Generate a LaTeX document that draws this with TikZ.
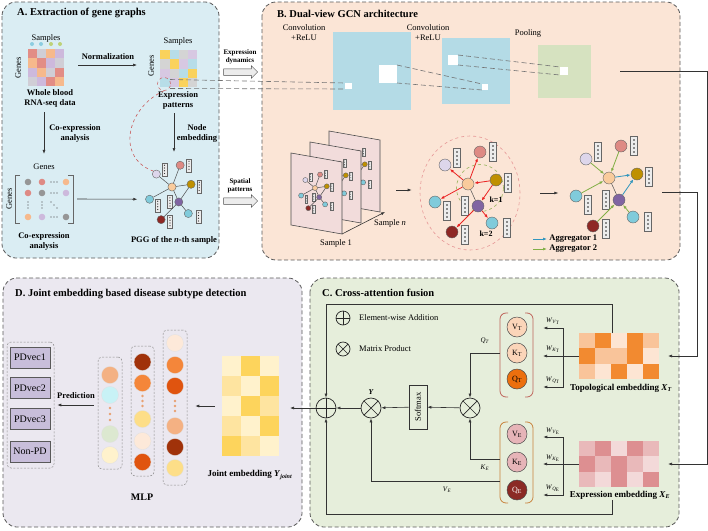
\documentclass[tikz,border=0pt]{standalone}
\usepackage{fontspec}
\setmainfont{Liberation Serif}
\usetikzlibrary{arrows.meta,shapes.arrows,shapes.geometric,positioning}

\definecolor{panelA}{RGB}{218,237,243}
\definecolor{panelB}{RGB}{251,229,214}
\definecolor{panelC}{RGB}{230,238,219}
\definecolor{panelD}{RGB}{235,232,240}
\definecolor{convblue}{RGB}{180,219,230}
\definecolor{poolgreen}{RGB}{214,226,192}
\definecolor{planefill}{RGB}{242,220,219}
\definecolor{nPeach}{RGB}{249,203,156}
\definecolor{nLav}{RGB}{221,214,235}
\definecolor{nRed}{RGB}{222,138,132}
\definecolor{nGold}{RGB}{191,144,0}
\definecolor{nBlue}{RGB}{128,203,219}
\definecolor{nPurple}{RGB}{128,100,162}
\definecolor{nDark}{RGB}{142,40,36}
\definecolor{hRed}{RGB}{226,141,134}
\definecolor{hGrey}{RGB}{208,206,214}
\definecolor{hPeach}{RGB}{246,185,140}
\definecolor{hLav}{RGB}{205,185,220}
\definecolor{yY}{RGB}{250,210,92}
\definecolor{yB}{RGB}{183,221,232}
\definecolor{yG}{RGB}{212,212,212}
\definecolor{yL}{RGB}{215,200,226}
\definecolor{sBlue}{RGB}{140,205,225}
\definecolor{sGreen}{RGB}{190,210,120}
\definecolor{dGrey}{RGB}{150,150,150}
\definecolor{mPeach}{RGB}{244,177,131}
\definecolor{mCyan}{RGB}{200,242,246}
\definecolor{mGreen}{RGB}{220,232,208}
\definecolor{mCream}{RGB}{255,242,204}
\definecolor{mBrown}{RGB}{160,50,10}
\definecolor{mOrange}{RGB}{244,134,58}
\definecolor{mRedOr}{RGB}{224,84,15}
\definecolor{mYellow}{RGB}{253,222,136}
\definecolor{mLight}{RGB}{253,233,217}
\definecolor{mDot}{RGB}{232,160,112}
\definecolor{jC}{RGB}{255,242,204}
\definecolor{jL}{RGB}{254,228,160}
\definecolor{jY}{RGB}{253,212,92}
\definecolor{tL}{RGB}{249,196,154}
\definecolor{tO}{RGB}{242,138,48}
\definecolor{tC}{RGB}{253,229,211}
\definecolor{eL}{RGB}{233,185,186}
\definecolor{eD}{RGB}{221,143,145}
\definecolor{eC}{RGB}{243,217,217}
\definecolor{qkvTl}{RGB}{251,213,185}
\definecolor{qkvTd}{RGB}{236,111,14}
\definecolor{qkvEl}{RGB}{230,180,184}
\definecolor{qkvEd}{RGB}{139,42,37}
\definecolor{brT}{RGB}{190,100,90}
\definecolor{brE}{RGB}{200,130,60}
\definecolor{pdfill}{RGB}{200,190,218}
\definecolor{selred}{RGB}{200,90,90}
\definecolor{hopPink}{RGB}{230,150,150}
\definecolor{hopGreen}{RGB}{150,180,90}
\definecolor{kRed}{RGB}{235,35,35}
\definecolor{agBlue}{RGB}{50,150,190}
\definecolor{agGreen}{RGB}{130,175,70}

\newcommand{\isub}[2]{\textit{#1}\textsubscript{\textit{#2}}}

% one gene graph: name prefix, centre, scale
\newcommand{\genegraph}[3]{%
  \begin{scope}[shift={#2}, scale=#3, every node/.append style={transform shape}]
    \node[gnode, fill=nPeach]  (#1c)    at (0,0)     {};
    \node[gnode, fill=nLav]    (#1lav)  at (-23,-19) {};
    \node[gnode, fill=nRed]    (#1red)  at (12,-32)  {};
    \node[gnode, fill=nGold]   (#1gold) at (28,-4)   {};
    \node[gnode, fill=nBlue]   (#1bl)   at (-33,18)  {};
    \node[gnode, fill=nPurple] (#1pur)  at (10,22)   {};
    \node[gnode, fill=nBlue]   (#1br)   at (24,39)   {};
    \node[gnode, fill=nDark]   (#1dr)   at (-16,48)  {};
    \node[vecbox] (#1vlav)  at (-11,-26) {};
    \node[vecbox] (#1vred)  at (25,-32)  {};
    \node[vecbox] (#1vgold) at (40,-1)   {};
    \node[vecbox] (#1vbl)   at (-21,27)  {};
    \node[vecbox] (#1vc)    at (-3,22)   {};
    \node[vecbox] (#1vbr)   at (39,44)   {};
    \node[vecbox] (#1vdr)   at (-3,51)   {};
  \end{scope}}

\newcommand{\plainedges}[1]{%
  \draw[gedge] (#1c) -- (#1lav) (#1c) -- (#1red) (#1c) -- (#1gold)
    (#1c) -- (#1bl) (#1c) -- (#1pur) (#1pur) -- (#1gold)
    (#1pur) -- (#1br) (#1pur) -- (#1dr);}

\tikzset{
  panel/.style={draw=black!65, dash pattern=on 4pt off 2.5pt, line width=0.8pt, rounded corners=14pt},
  arr/.style={-{Latex[length=4pt,width=3pt]}, line width=0.6pt, draw=black!80},
  gedge/.style={draw=black!70, line width=0.5pt},
  gnode/.style={circle, draw=black!60, line width=0.4pt, minimum size=12pt, inner sep=0pt},
  vecbox/.style={draw=black!60, fill=gray!15, line width=0.4pt, minimum width=7pt,
    minimum height=19pt, inner sep=0pt,
    path picture={\foreach \d in {-6,-2,2,6}
      \fill[black!85] ([yshift=\d pt]path picture bounding box.center) circle (0.9pt);}},
  hmbox/.style={inner sep=0pt, outer sep=0pt},
  guide/.style={draw=black!55, dash pattern=on 5pt off 3pt, line width=0.6pt},
  sq/.style={inner sep=0pt, outer sep=0pt},
  ttl/.style={font=\fontsize{10.5}{12}\selectfont\bfseries, anchor=west, inner sep=0pt},
  blbl/.style={font=\fontsize{8.5}{10}\selectfont\bfseries, align=center, inner sep=1pt},
  nlbl/.style={font=\fontsize{8.5}{10}\selectfont, align=center, inner sep=1pt},
  slbl/.style={font=\fontsize{7}{8.5}\selectfont\bfseries, align=center, inner sep=1pt},
  hollow/.style={single arrow, draw=black!70, fill=gray!15, line width=0.5pt,
    single arrow head extend=3pt, inner sep=3pt, minimum height=34pt},
  plane/.style={draw=black!70, fill=planefill, line width=0.6pt},
  redarr/.style={-{Latex[length=4pt,width=3pt]}, draw=kRed, line width=0.8pt},
  agA/.style={-{Latex[length=4pt,width=3pt]}, draw=agBlue, line width=0.8pt},
  agB/.style={-{Latex[length=4pt,width=3pt]}, draw=agGreen, line width=0.8pt},
  opnode/.style={circle, draw=black!85, line width=0.7pt, minimum size=20pt, inner sep=0pt},
  oplus/.style={opnode, path picture={\draw[line width=0.7pt]
    (path picture bounding box.north) -- (path picture bounding box.south)
    (path picture bounding box.west) -- (path picture bounding box.east);}},
  otimes/.style={opnode, path picture={\draw[line width=0.7pt]
    (path picture bounding box.north west) -- (path picture bounding box.south east)
    (path picture bounding box.north east) -- (path picture bounding box.south west);}},
  qkv/.style={circle, draw=black!70, line width=0.5pt, minimum size=20pt, inner sep=0pt,
    font=\fontsize{8}{9}\selectfont},
  mlpc/.style={circle, draw=black!12, line width=0.3pt, minimum size=17pt, inner sep=0pt},
  grp/.style={draw=black!45, dash pattern=on 2pt off 1.5pt, rounded corners=4pt, line width=0.5pt},
  pdbox/.style={draw=black!65, fill=pdfill, line width=0.8pt, minimum width=40pt,
    minimum height=21pt, inner sep=0pt, font=\fontsize{10}{12}\selectfont},
  wlbl/.style={font=\fontsize{7}{8}\selectfont, inner sep=0pt}
}

\begin{document}
\begin{tikzpicture}[x=1pt, y=-1pt]
\useasboundingbox (0,0) rectangle (708,530);

% panels
\filldraw[panel, fill=panelA] (2,2) rectangle (219,258);
\filldraw[panel, fill=panelB] (262,2) rectangle (680,260);
\filldraw[panel, fill=panelD] (3,278) rectangle (302,527);
\filldraw[panel, fill=panelC] (310,278) rectangle (679,527);

% ---------------- A. extraction of gene graphs
\node[ttl] (ttlA) at (17,13) {A. Extraction of gene graphs};

\node[nlbl] (smpRaw) at (46,38) {Samples};
\foreach \x/\c in {32/sBlue,41/sBlue,51/sGreen,60/sGreen}
  \fill[\c] (\x,44) circle (2pt);
\foreach \row [count=\r] in {{hRed,hGrey,hPeach,hLav},{hPeach,hRed,hLav,hGrey},
    {hLav,hPeach,hGrey,hRed},{hGrey,hLav,hRed,hPeach}}
  \foreach \c [count=\k] in \row
    \fill[\c] ({19+9*\k},{39.75+9.25*\r}) rectangle ++(9,9.25);
\node[hmbox, minimum width=36pt, minimum height=37pt] (hmRaw) at (46,67.5) {};
\node[nlbl, rotate=90] (gRaw) at (18,68) {Genes};
\node[blbl] (rawtxt) at (50,98) {Whole blood\\RNA-seq data};

\node[nlbl] (smpNorm) at (178,41) {Samples};
\foreach \row [count=\r] in {{yY,yB,yG,yL},{yG,yY,yL,yB},{yL,yG,yB,yY},{yB,yL,yY,yG}}
  \foreach \c [count=\k] in \row
    \fill[\c] ({151+9.25*\k},{40.75+9.25*\r}) rectangle ++(9.25,9.25);
\node[hmbox, minimum width=37pt, minimum height=37pt] (hmNorm) at (178.5,68.5) {};
\node[nlbl, rotate=90] (gNorm) at (151,66) {Genes};
\node[blbl] (pattxt) at (178,100) {Expression\\patterns};
\node[circle, draw=selred, dashed, line width=0.5pt, minimum size=13pt, inner sep=0pt] (selcirc) at (164,84) {};

\draw[arr, shorten <=14pt, shorten >=23pt] ([yshift=2.5pt]hmRaw.east) -- ([yshift=3.5pt]hmNorm.west);
\node[blbl] (normtxt) at (108,57) {Normalization};

% co-expression matrix
\node[nlbl] (cxgenes) at (44,167) {Genes};
\node[nlbl, rotate=90] (gCx) at (9,199) {Genes};
\node[hmbox, minimum width=58pt, minimum height=48pt] (cxmat) at (44,199) {};
\draw[black!60, line width=0.6pt] ([xshift=5pt]cxmat.north west) -- (cxmat.north west) -- (cxmat.south west) -- ([xshift=5pt]cxmat.south west);
\draw[black!60, line width=0.6pt] ([xshift=-5pt]cxmat.north east) -- (cxmat.north east) -- (cxmat.south east) -- ([xshift=-5pt]cxmat.south east);
\foreach \x/\y/\c in {28/182/dGrey,42/182/nRed,66/182/hPeach,28/193/nRed,42/193/dGrey,66/193/hLav,
    28/217/hPeach,42/217/hLav,66/217/dGrey}
  \fill[\c] (\x,\y) circle (3.3pt);
% dots of the matrix
\foreach \x/\y in {51/182,54/182,57/182, 51/193,54/193,57/193, 51/217,54/217,57/217,
    28/202,28/205,28/208, 42/202,42/205,42/208, 51/202,54/205,57/208}
  \fill[black!75] (\x,\y) circle (0.7pt);
\node[blbl] (cxtxt) at (44,241) {Co-expression\\analysis};

\draw[arr, shorten <=4pt, shorten >=9pt] (rawtxt.south -| cxgenes.north) -- (cxgenes.north);
\node[blbl] (cxlbl) at (75,133) {Co-expression\\analysis};

% PGG
\genegraph{pgg}{(172,187)}{0.68}
\plainedges{pgg}
\node[blbl] (pggtxt) at (174,240) {PGG of the \textit{n}-th sample};
\coordinate (embEnd) at (174,152);
\draw[arr, shorten <=3pt] (pattxt.south -| embEnd) -- (embEnd);
\node[blbl] (emblbl) at (197,133) {Node\\embedding};
\draw[arr, shorten <=4pt, shorten >=8pt] (cxmat.east) -- (pggbl.west);
\draw[selred, dashed, line width=0.6pt] (selcirc.south) .. controls (126,108) and (116,158) .. (pgglav.north west);

% between A and B
\node[slbl] (dyntxt) at (240,57) {Expression\\dynamics};
\node[hollow] (dynArr) at (239,72) {};
\node[slbl] (spatxt) at (240,186) {Spatial\\patterns};
\node[hollow] (spaArr) at (239,201) {};

% ---------------- B. dual-view GCN
\node[ttl] (ttlB) at (277,14) {B. Dual-view GCN architecture};
\node[nlbl] (conv1txt) at (304,33) {Convolution\\+ReLU};
\node[nlbl] (conv2txt) at (428,33) {Convolution\\+ReLU};
\node[nlbl] (pooltxt) at (528,33) {Pooling};

\node[sq, fill=convblue, minimum width=78pt, minimum height=78pt] (conv1) at (372,71) {};
\node[sq, fill=white, minimum width=7pt, minimum height=6pt] (cw1) at (348.5,86) {};
\node[sq, fill=white, minimum width=18pt, minimum height=18pt] (cw1b) at (388,74) {};
\node[sq, fill=convblue, minimum width=68pt, minimum height=66pt] (conv2) at (476,71) {};
\node[sq, fill=white, minimum width=10pt, minimum height=10pt] (cw2) at (453,60) {};
\node[sq, fill=white, minimum width=6pt, minimum height=6pt] (cw2b) at (485,87) {};
\node[sq, fill=poolgreen, minimum width=53pt, minimum height=53pt] (pool) at (564.5,71.5) {};
\node[sq, fill=white, minimum width=8pt, minimum height=8pt] (pw) at (564,71) {};

\coordinate (patTop) at (170,79.5);
\coordinate (patBot) at (170,88.5);
\draw[guide] (patTop) -- (cw1.north west);
\draw[guide] (patBot) -- (cw1.south west);
\draw[guide] (cw1b.north east) -- (cw2b.north west);
\draw[guide] (cw1b.south east) -- (cw2b.south west);
\draw[guide] (cw2.north east) -- (pw.north west);
\draw[guide] (cw2.south east) -- (pw.south west);

% stacked samples
\foreach \p/\dx/\dy in {3/38/-22, 2/19/-11, 1/0/0} {
  \filldraw[plane] ({291+\dx},{153+\dy}) -- ++(51,9) -- ++(0,72) -- ++(-51,-9) -- cycle;
  \genegraph{p\p}{({315+\dx},{188+\dy})}{0.42}
  \plainedges{p\p}
}
\coordinate (s1) at (342,234);
\coordinate (sn) at (385,212);
\draw[arr] (s1) -- (sn);
\node[nlbl] (smp1) at (336,243) {Sample 1};
\node[nlbl] (smpn) at (390,223) {Sample \textit{n}};
\coordinate (stkOut) at (396,190);

% k-hop view
\node[ellipse, draw=hopPink, dashed, line width=0.6pt, minimum width=100pt, minimum height=114pt] (khop) at (470,193) {};
\node[circle, draw=hopGreen, dashed, line width=0.6pt, minimum size=47pt] (k1hop) at (480,188) {};
\draw[arr, shorten >=8pt] (stkOut) -- (stkOut -| khop.west);
\genegraph{k}{(468,184)}{1}
\draw[gedge] (kc) -- (kpur);
\draw[redarr] (kc) -- (klav);
\draw[redarr] (kc) -- (kred);
\draw[redarr] (kgold) -- (kc);
\draw[redarr] (kc) -- (kbl);
\draw[redarr] (kgold) -- (kpur);
\draw[redarr] (kpur) -- (kbr);
\draw[redarr] (kpur) -- (kdr);
\node[blbl, font=\fontsize{8}{9}\selectfont\bfseries] (k1txt) at (496,200) {k=1};
\node[blbl, font=\fontsize{8}{9}\selectfont\bfseries] (k2txt) at (486,234) {k=2};

\draw[arr] ([xshift=20pt]khop.east) -- ++(18,0);

% aggregated view
\genegraph{r}{(609,178)}{1}
\draw[gedge] (rc) -- (rpur);
\draw[agB] (rlav) -- (rc);
\draw[agB] (rred) -- (rc);
\draw[agB] (rbl) -- (rc);
\draw[agB] (rdr) -- (rpur);
\draw[agB] (rbr) -- (rpur);
\draw[agA] (rc) -- (rgold);
\draw[agA] (rpur) -- (rgold);

\coordinate (legA) at (533,239);
\coordinate (legB) at (533,249);
\draw[agA] (legA) -- ++(14,0) node[blbl, anchor=west, xshift=1pt] (agtxt1) {Aggregator 1};
\draw[agB] (legB) -- ++(14,0) node[blbl, anchor=west, xshift=1pt] (agtxt2) {Aggregator 2};

% ---------------- C. cross-attention fusion
\node[ttl] (ttlC) at (322,293) {C. Cross-attention fusion};
\node[oplus, minimum size=14pt] (legAdd) at (343,318) {};
\node[nlbl, anchor=west] (legAddT) at (358,318) {Element-wise Addition};
\node[otimes, minimum size=14pt] (legMul) at (343,349) {};
\node[nlbl, anchor=west] (legMulT) at (358,349) {Matrix Product};

\node[oplus] (opl) at (326,408) {};
\node[otimes] (otY) at (371,408) {};
\node[blbl, font=\fontsize{7.5}{9}\selectfont\bfseries\itshape] (lblY) at (371,392) {Y};
\node[draw=black!80, line width=0.6pt, rotate=90, minimum width=44pt, minimum height=18pt,
  inner sep=0pt, font=\fontsize{8.5}{10}\selectfont] (soft) at (418,407) {Softmax};
\node[otimes] (otB) at (470,408) {};

% Q K V of the two views
\node[hmbox, minimum width=33pt, minimum height=84pt] (qkvT) at (516.5,355) {};
\node[hmbox, minimum width=33pt, minimum height=81pt] (qkvE) at (516.5,462.5) {};
\foreach \b/\c in {qkvT/brT, qkvE/brE} {
  \draw[\c, line width=0.8pt, rounded corners=6pt] ([xshift=8pt]\b.north west) -- (\b.north west) -- (\b.south west) -- ([xshift=8pt]\b.south west);
  \draw[\c, line width=0.8pt, rounded corners=6pt] ([xshift=-8pt]\b.north east) -- (\b.north east) -- (\b.south east) -- ([xshift=-8pt]\b.south east);
}
\node[qkv, fill=qkvTl] (vT) at (517,327) {V\textsubscript{T}};
\node[qkv, fill=qkvTl] (kT) at (517,353) {K\textsubscript{T}};
\node[qkv, fill=qkvTd] (qT) at (517,379) {Q\textsubscript{T}};
\node[qkv, fill=qkvEl] (vE) at (517,434) {V\textsubscript{E}};
\node[qkv, fill=qkvEl] (kE) at (517,462) {K\textsubscript{E}};
\node[qkv, fill=qkvEd, text=white] (qE) at (517,490) {Q\textsubscript{E}};

% embeddings
\foreach \row [count=\r] in {{tL,tO,tC,tO,tL},{tO,tL,tL,tO,tC},{tL,tC,tO,tC,tO}}
  \foreach \c [count=\k] in \row
    \fill[\c] ({563+16*\k},{317.67+15.33*\r}) rectangle ++(16,15.33);
\node[hmbox, minimum width=80pt, minimum height=46pt] (hmT) at (619,356) {};
\node[blbl, font=\fontsize{9}{10}\selectfont\bfseries] (lblT) at (621,388) {Topological embedding \isub{X}{T}};
\foreach \row [count=\r] in {{eL,eD,eC,eD,eL},{eD,eL,eD,eL,eC},{eL,eC,eD,eC,eD}}
  \foreach \c [count=\k] in \row
    \fill[\c] ({563+16*\k},{425.67+15.33*\r}) rectangle ++(16,15.33);
\node[hmbox, minimum width=80pt, minimum height=46pt] (hmE) at (619,464) {};
\node[blbl, font=\fontsize{9}{10}\selectfont\bfseries] (lblE) at (620,495) {Expression embedding \isub{X}{E}};

% projections
\draw[arr, shorten >=10pt] (hmT.west) -- (hmT.west -| qkvT.east);
\draw[arr] ([xshift=-16pt]hmT.west) |- ([xshift=16pt,yshift=-1pt]vT.east);
\draw[arr] ([xshift=-16pt]hmT.west) |- ([xshift=16pt,yshift=-8pt]qT.east);
\draw[arr, shorten >=10pt] (hmE.west) -- (hmE.west -| qkvE.east);
\draw[arr] ([xshift=-16pt]hmE.west) |- ([xshift=16pt,yshift=-3pt]vE.east);
\draw[arr] ([xshift=-16pt]hmE.west) |- ([xshift=16pt,yshift=-5pt]qE.east);
\node[wlbl] (wvt) at (553,321) {\textit{W}\textsubscript{\textit{V}\textsubscript{T}}};
\node[wlbl] (wkt) at (553,349) {\textit{W}\textsubscript{\textit{K}\textsubscript{T}}};
\node[wlbl] (wqt) at (553,380) {\textit{W}\textsubscript{\textit{Q}\textsubscript{T}}};
\node[wlbl] (wve) at (553,431) {\textit{W}\textsubscript{\textit{V}\textsubscript{E}}};
\node[wlbl] (wke) at (553,458) {\textit{W}\textsubscript{\textit{K}\textsubscript{E}}};
\node[wlbl] (wqe) at (553,488) {\textit{W}\textsubscript{\textit{Q}\textsubscript{E}}};

% attention
\draw[arr] ([yshift=2pt]qkvT.west) -| (otB.north);
\draw[arr] ([yshift=3pt]qkvE.west) -| (otB.south);
\draw[arr] ([yshift=-19pt]qkvE.west) -| (otY.south);
\node[wlbl] (lblQ) at (485,341) {\isub{Q}{T}};
\node[wlbl] (lblK) at (485,468) {\isub{K}{E}};
\node[wlbl] (lblV) at (447,490) {\isub{V}{E}};
\draw[arr] (otB) -- (soft);
\draw[arr] (soft) -- (otY);
\draw[arr] (otY) -- (opl);
\draw[arr] ([xshift=-7pt]hmT.north) -- ++(0,-29) -| (opl.north);
\draw[arr] ([xshift=-8pt]lblE.south) -- ++(0,14) -| (opl.south);

% inputs from B
\coordinate (gcnOut) at (662,192);
\draw[arr] (gcnOut) -| ([xshift=38pt]hmT.east) -- ([xshift=9pt]hmT.east);
\draw[arr, shorten <=29pt] (pool.east) -| ([xshift=48pt]hmE.east) -- ([xshift=9pt]hmE.east);

% ---------------- D. joint embedding
\node[ttl] (ttlD) at (15,294) {D. Joint embedding based disease subtype detection};
\foreach \row [count=\r] in {{jC,jY,jC},{jL,jC,jY},{jC,jY,jL},{jL,jC,jY},{jY,jL,jC}}
  \foreach \c [count=\k] in \row
    \fill[\c] ({203+19*\k},{336+20*\r}) rectangle ++(19,20);
\node[hmbox, minimum width=57pt, minimum height=100pt] (hmJ) at (250.5,406) {};
\node[blbl, font=\fontsize{9}{10}\selectfont\bfseries] (lblJ) at (250,475) {Joint embedding \isub{Y}{joint}};
\draw[arr, shorten >=11pt] (opl.west) -- (opl.west -| hmJ.east);

% MLP
\node[grp, minimum width=24pt, minimum height=112pt] (mlp1) at (110,413) {};
\node[grp, minimum width=23pt, minimum height=130pt] (mlp2) at (142.5,411) {};
\node[grp, minimum width=24pt, minimum height=155pt] (mlp3) at (175,407.5) {};
\foreach \y/\c [count=\i] in {375/mPeach,395/mCyan,434/mGreen,455/mCream}
  \node[mlpc, fill=\c] (ma\i) at (110,\y) {};
\foreach \y/\c [count=\i] in {362/mBrown,383/mOrange,419/mYellow,441/mLight,462/mRedOr}
  \node[mlpc, fill=\c] (mb\i) at (142.5,\y) {};
\foreach \y/\c [count=\i] in {343/mLight,365/mOrange,386/mRedOr,426/mPeach,447/mBrown,468/mYellow}
  \node[mlpc, fill=\c] (mc\i) at (175,\y) {};
\foreach \x/\y in {110/408,110/414,110/420,142.5/396,142.5/401,142.5/406,175/401,175/406,175/411}
  \fill[mDot] (\x,\y) circle (1.3pt);
\node[blbl, font=\fontsize{10}{12}\selectfont\bfseries] (lblMLP) at (142,497) {MLP};
\draw[arr, shorten <=7pt, shorten >=8pt] (hmJ.west) -- (mlp3.east |- hmJ.west);

% subtypes
\node[grp, minimum width=47pt, minimum height=126pt] (pdgrp) at (30.5,405) {};
\node[pdbox] (pd1) at (30,357.5) {PDvec1};
\node[pdbox] (pd2) at (30,388) {PDvec2};
\node[pdbox] (pd3) at (30,419) {PDvec3};
\node[pdbox] (pd4) at (30,451.5) {Non-PD};
\draw[arr, shorten <=4pt, shorten >=3pt] (mlp1.west |- pdgrp.east) -- (pdgrp.east);
\node[blbl] (predtxt) at (76,396) {Prediction};

\end{tikzpicture}
\end{document}
